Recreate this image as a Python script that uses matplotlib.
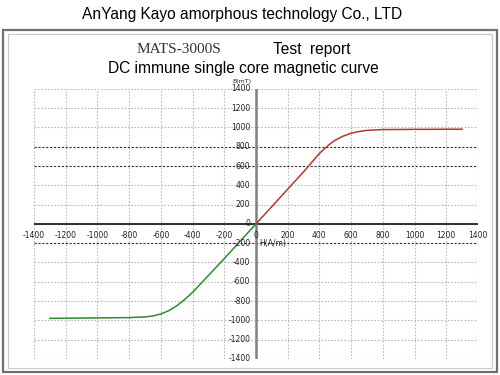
import numpy as np
import matplotlib.pyplot as plt
from matplotlib.patches import Rectangle

# magnetization curve
h_pos = [0, 100, 200, 300, 400, 425, 450, 475, 500, 550, 600, 650, 700, 800, 1000, 1300]
b_pos = [0, 180, 360, 540, 730, 770, 805, 840, 868, 910, 940, 958, 970, 978, 980, 982]
h_neg = [-1300, -1000, -800, -700, -650, -600, -550, -500, -450, -400, -300, -200, -100, 0]
b_neg = [-980, -975, -972, -965, -955, -935, -900, -850, -785, -710, -535, -360, -180, 0]

ticks = np.arange(-1400, 1401, 200)
dark_rows = [800, 600, -200]

fig = plt.figure(figsize=(5, 3.75), dpi=100)
fig.patch.set_facecolor('white')

# double frame around the report
fig.add_artist(Rectangle((0.006, 0.008), 0.988, 0.912, transform=fig.transFigure,
                         fill=False, edgecolor='#707070', linewidth=1.6))
fig.add_artist(Rectangle((0.016, 0.018), 0.968, 0.892, transform=fig.transFigure,
                         fill=False, edgecolor='#c8c8c8', linewidth=0.8))

fig.text(0.484, 0.962, "AnYang Kayo amorphous technology Co., LTD",
         ha='center', va='center', fontsize=11.2, family='Liberation Sans')
fig.text(0.358, 0.869, "MATS-3000S", ha='center', va='center',
         fontsize=11, family='Liberation Serif', color='#333333')
fig.text(0.624, 0.869, "Test  report", ha='center', va='center',
         fontsize=11.2, family='Liberation Sans')
fig.text(0.487, 0.818, "DC immune single core magnetic curve",
         ha='center', va='center', fontsize=11.2, family='Liberation Sans')

ax = fig.add_axes([0.068, 0.043, 0.888, 0.720])
ax.set_xlim(-1400, 1400)
ax.set_ylim(-1400, 1400)
for s in ax.spines.values():
    s.set_visible(False)
ax.set_xticks([])
ax.set_yticks([])

for t in ticks:
    ax.axvline(t, color='#b8b8b8', linestyle=(0, (1.5, 1.5)), linewidth=0.8, zorder=1)
    if t in dark_rows:
        ax.axhline(t, color='#303030', linestyle=(0, (2, 1.5)), linewidth=0.8, zorder=1)
    else:
        ax.axhline(t, color='#b8b8b8', linestyle=(0, (1.5, 1.5)), linewidth=0.8, zorder=1)

# axes through the origin
ax.axhline(0, color='#202020', linewidth=1.3, zorder=2)
ax.axvline(0, color='#808080', linewidth=1.8, zorder=2)

ax.plot(h_neg, b_neg, color='#2e8a2e', linewidth=1.1, zorder=3)
ax.plot(h_pos, b_pos, color='#b03a2a', linewidth=1.1, zorder=3)

for t in ticks:
    ax.text(t, -70, f"{t}", ha='center', va='top', fontsize=5.5, color='#222222')
    ax.text(-35, t, f"{t}", ha='right', va='center', fontsize=5.5, color='#222222')

ax.text(-90, 1450, "B(mT)", ha='center', va='bottom', fontsize=4.5, color='#222222',
        clip_on=False)
ax.text(20, -200, "H(A/m)", ha='left', va='center', fontsize=5.5, color='#222222')

plt.savefig('out.png', dpi=100)
